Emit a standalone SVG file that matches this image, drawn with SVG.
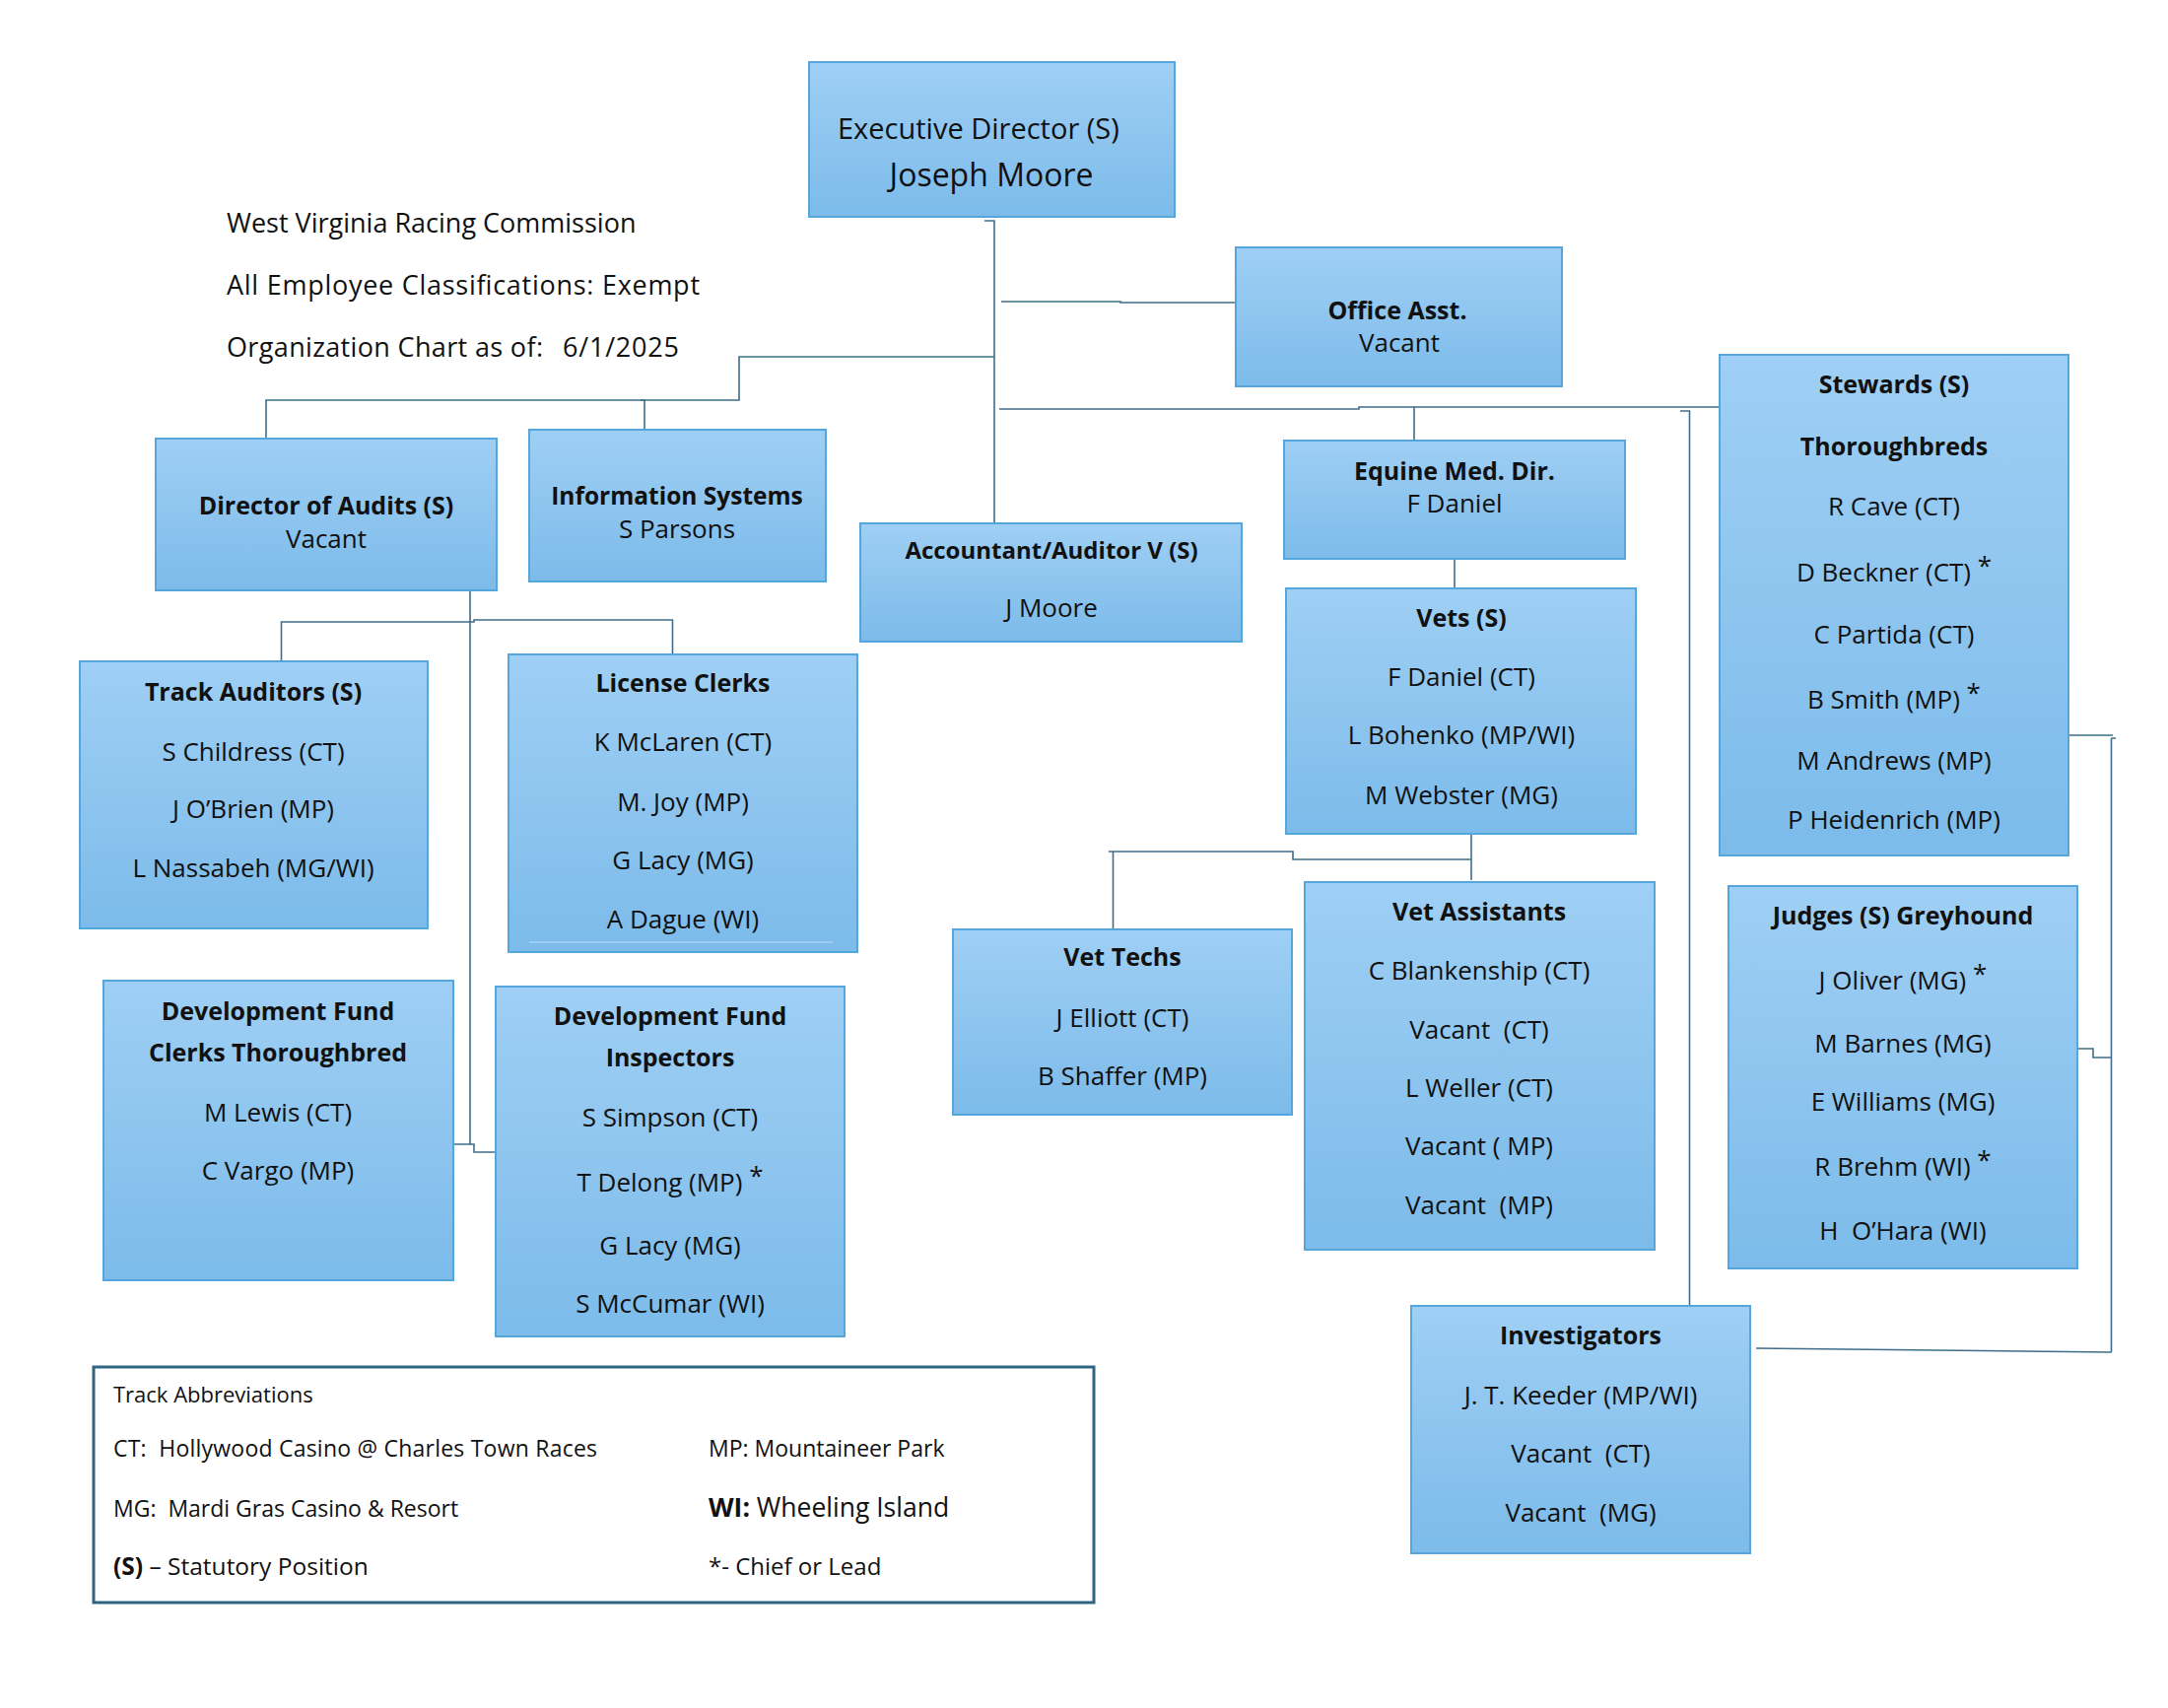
<svg xmlns="http://www.w3.org/2000/svg" width="2200" height="1733" viewBox="0 0 2200 1733">
<defs>
<linearGradient id="g" x1="0" y1="0" x2="0" y2="1">
<stop offset="0" stop-color="#9fcff4"/>
<stop offset="1" stop-color="#7cbbea"/>
</linearGradient>
<style>
.box{fill:url(#g);stroke:#55a6dd;stroke-width:2}
.t{font-family:'Open Sans','Liberation Sans',sans-serif;font-size:26px;fill:#111;text-anchor:middle}
.b{font-weight:bold;font-size:25px}
.l{font-family:'Open Sans','Liberation Sans',sans-serif;font-size:23px;fill:#111}
.h{font-family:'Open Sans','Liberation Sans',sans-serif;font-size:27px;fill:#111}
.c{fill:none;stroke:#3f6d89;stroke-width:1.6}
</style>
</defs>
<rect width="2200" height="1733" fill="#fff"/>

<g id="title">
<text class="h" x="230" y="236">West Virginia Racing Commission</text>
<text class="h" x="230" y="299" textLength="480">All Employee Classifications: Exempt</text>
<text class="h" x="230" y="362" textLength="321">Organization Chart as of:</text>
<text class="h" x="571" y="362" textLength="118">6/1/2025</text>
</g>

<g id="connectors">
<path class="c" d="M999,224 H1009 V531"/>
<path class="c" d="M1016,306 H1137 V307 H1254"/>
<path class="c" d="M1009,362 H750 V406 H270 V445"/>
<path class="c" d="M650,406 H654 V436"/>
<path class="c" d="M1014,415 H1379 V413 H1745"/>
<path class="c" d="M1435,413 V447"/>
<path class="c" d="M1705,417 H1714.5 V1326 H1723"/>
<path class="c" d="M1476,567 V597"/>
<path class="c" d="M1493,846 V893"/>
<path class="c" d="M1493,872 H1312 V864 H1125 M1129.5,864 V943"/>
<path class="c" d="M477,599 V1161 H481 V1169 H503 M459,1161 H477"/>
<path class="c" d="M285.5,671 V631 H481 V629 H682.5 V664"/>
<path class="c" d="M2099,746 H2144 M2142.5,749 H2147 M2142.5,749 V1372 M1782,1368 L2142.5,1372"/>
<path class="c" d="M2108,1064 H2124 V1073 H2142"/>
</g>

<g id="exec">
<rect class="box" x="821" y="63" width="371" height="157"/>
<text class="t" x="850" y="141" style="text-anchor:start;font-size:29px">Executive Director (S)</text>
<text class="t" x="1006" y="189" style="font-size:32px">Joseph Moore</text>
</g>

<g id="office">
<rect class="box" x="1254" y="251" width="331" height="141"/>
<text class="t b" x="1418" y="324">Office Asst.</text>
<text class="t" x="1420" y="357">Vacant</text>
</g>

<g id="stewards">
<rect class="box" x="1745" y="360" width="354" height="508"/>
<text class="t b" x="1922" y="399">Stewards (S)</text>
<text class="t b" x="1922" y="462">Thoroughbreds</text>
<text class="t" x="1922" y="523">R Cave (CT)</text>
<text class="t" x="1922" y="590">D Beckner (CT) <tspan dy="-7">*</tspan></text>
<text class="t" x="1922" y="653">C Partida (CT)</text>
<text class="t" x="1922" y="719">B Smith (MP) <tspan dy="-7">*</tspan></text>
<text class="t" x="1922" y="781">M Andrews (MP)</text>
<text class="t" x="1922" y="841">P Heidenrich (MP)</text>
</g>

<g id="dir-audits">
<rect class="box" x="158" y="445" width="346" height="154"/>
<text class="t b" x="331" y="522">Director of Audits (S)</text>
<text class="t" x="331" y="556">Vacant</text>
</g>

<g id="info-systems">
<rect class="box" x="537" y="436" width="301" height="154"/>
<text class="t b" x="687" y="512" style="font-size:24.5px">Information Systems</text>
<text class="t" x="687" y="546">S Parsons</text>
</g>

<g id="accountant">
<rect class="box" x="873" y="531" width="387" height="120"/>
<text class="t b" x="1067" y="567" style="font-size:24px">Accountant/Auditor V (S)</text>
<text class="t" x="1067" y="626">J Moore</text>
</g>

<g id="equine">
<rect class="box" x="1303" y="447" width="346" height="120"/>
<text class="t b" x="1476" y="487">Equine Med. Dir.</text>
<text class="t" x="1476" y="520">F Daniel</text>
</g>

<g id="vets">
<rect class="box" x="1305" y="597" width="355" height="249"/>
<text class="t b" x="1483" y="636">Vets (S)</text>
<text class="t" x="1483" y="696">F Daniel (CT)</text>
<text class="t" x="1483" y="755">L Bohenko (MP/WI)</text>
<text class="t" x="1483" y="816">M Webster (MG)</text>
</g>

<g id="track-auditors">
<rect class="box" x="81" y="671" width="353" height="271"/>
<text class="t b" x="257" y="711">Track Auditors (S)</text>
<text class="t" x="257" y="772">S Childress (CT)</text>
<text class="t" x="257" y="830">J O’Brien (MP)</text>
<text class="t" x="257" y="890">L Nassabeh (MG/WI)</text>
</g>

<g id="license-clerks">
<rect class="box" x="516" y="664" width="354" height="302"/>
<line x1="537" y1="956" x2="845" y2="956" stroke="#a8d4f3" stroke-width="1.5"/>
<text class="t b" x="693" y="702">License Clerks</text>
<text class="t" x="693" y="762">K McLaren (CT)</text>
<text class="t" x="693" y="823">M. Joy (MP)</text>
<text class="t" x="693" y="882">G Lacy (MG)</text>
<text class="t" x="693" y="942">A Dague (WI)</text>
</g>

<g id="dev-clerks">
<rect class="box" x="105" y="995" width="355" height="304"/>
<text class="t b" x="282" y="1035">Development Fund</text>
<text class="t b" x="282" y="1077">Clerks Thoroughbred</text>
<text class="t" x="282" y="1138">M Lewis (CT)</text>
<text class="t" x="282" y="1197">C Vargo (MP)</text>
</g>

<g id="dev-inspectors">
<rect class="box" x="503" y="1001" width="354" height="355"/>
<text class="t b" x="680" y="1040">Development Fund</text>
<text class="t b" x="680" y="1082">Inspectors</text>
<text class="t" x="680" y="1143">S Simpson (CT)</text>
<text class="t" x="680" y="1209">T Delong (MP) <tspan dy="-7">*</tspan></text>
<text class="t" x="680" y="1273">G Lacy (MG)</text>
<text class="t" x="680" y="1332">S McCumar (WI)</text>
</g>

<g id="vet-techs">
<rect class="box" x="967" y="943" width="344" height="188"/>
<text class="t b" x="1139" y="980">Vet Techs</text>
<text class="t" x="1139" y="1042">J Elliott (CT)</text>
<text class="t" x="1139" y="1101">B Shaffer (MP)</text>
</g>

<g id="vet-assistants">
<rect class="box" x="1324" y="895" width="355" height="373"/>
<text class="t b" x="1501" y="934">Vet Assistants</text>
<text class="t" x="1501" y="994">C Blankenship (CT)</text>
<text class="t" x="1501" y="1054" xml:space="preserve">Vacant  (CT)</text>
<text class="t" x="1501" y="1113">L Weller (CT)</text>
<text class="t" x="1501" y="1172">Vacant ( MP)</text>
<text class="t" x="1501" y="1232" xml:space="preserve">Vacant  (MP)</text>
</g>

<g id="judges">
<rect class="box" x="1754" y="899" width="354" height="388"/>
<text class="t b" x="1931" y="938">Judges (S) Greyhound</text>
<text class="t" x="1931" y="1004">J Oliver (MG) <tspan dy="-7">*</tspan></text>
<text class="t" x="1931" y="1068">M Barnes (MG)</text>
<text class="t" x="1931" y="1127">E Williams (MG)</text>
<text class="t" x="1931" y="1193">R Brehm (WI) <tspan dy="-7">*</tspan></text>
<text class="t" x="1931" y="1258" xml:space="preserve">H  O’Hara (WI)</text>
</g>

<g id="investigators">
<rect class="box" x="1432" y="1325" width="344" height="251"/>
<text class="t b" x="1604" y="1364">Investigators</text>
<text class="t" x="1604" y="1425">J. T. Keeder (MP/WI)</text>
<text class="t" x="1604" y="1484" xml:space="preserve">Vacant  (CT)</text>
<text class="t" x="1604" y="1544" xml:space="preserve">Vacant  (MG)</text>
</g>

<g id="legend">
<rect x="95" y="1387" width="1015" height="239" fill="#fff" stroke="#2e6480" stroke-width="3"/>
<text class="l" x="115" y="1423" style="font-size:22px">Track Abbreviations</text>
<text class="l" x="115" y="1478" xml:space="preserve" textLength="491">CT:  Hollywood Casino @ Charles Town Races</text>
<text class="l" x="719" y="1478">MP: Mountaineer Park</text>
<text class="l" x="115" y="1539" xml:space="preserve">MG:  Mardi Gras Casino &amp; Resort</text>
<text class="l" x="719" y="1539" style="font-size:26.5px"><tspan font-weight="bold">WI:</tspan> Wheeling Island</text>
<text class="l" x="115" y="1598" style="font-size:24.5px"><tspan font-weight="bold">(S)</tspan> – Statutory Position</text>
<text class="l" x="719" y="1598" style="font-size:24px">*- Chief or Lead</text>
</g>
</svg>
